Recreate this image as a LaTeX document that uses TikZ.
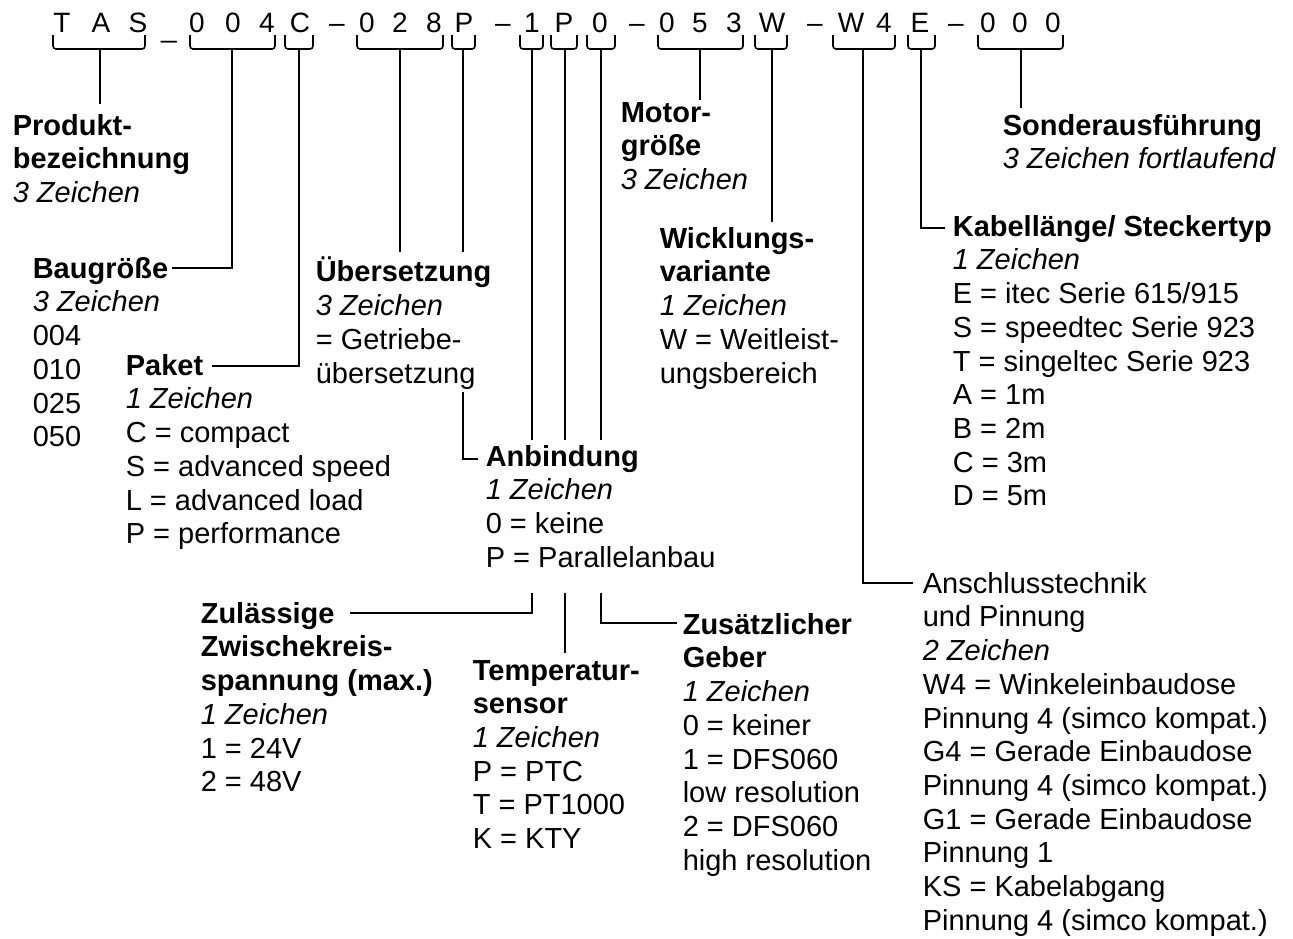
\documentclass[tikz,border=0pt]{standalone}
\usepackage{fontspec}
\setmainfont{Liberation Sans}
\begin{document}
\begin{tikzpicture}[x=1pt,y=-1pt,line width=1.6pt,
  txt/.style={anchor=north west,yshift=23.6pt,inner sep=0pt,align=left,
    font=\fontsize{29}{33.7}\selectfont,execute at begin node=\strut},
  code/.style={anchor=base,inner sep=0pt,font=\fontsize{28}{30}\selectfont},
  brace/.style={line width=1.6pt,rounded corners=3pt},
  conn/.style={line width=1.6pt}]
\useasboundingbox (0,0) rectangle (1293,938);
% code line
\foreach \x/\c/\n in {62/T/k1,101/A/k2,138/S/k3,197/0/k5,233/0/k6,267/4/k7,300/C/k8,337/–/k9,
  367/0/k10,400/2/k11,434/8/k12,464/P/k13,503/–/k14,532/1/k15,564/P/k16,600/0/k17,637/–/k18,
  667/0/k19,700/5/k20,734/3/k21,772/W/k22,815/–/k23,851/W/k24,884/4/k25,920/E/k26,956/–/k27,
  988/0/k28,1020/0/k29,1053/0/k30}
  \node[code] (\n) at (\x,32) {\c};
\node[code,yshift=-5pt] (k4) at (169,32) {\_};
% braces
\foreach \a/\b/\m/\n in {53/145/100/bTAS,190/275/232/bBau,285/313/299/bPak,357/443/400/bUe,
  452/475/463/bAnb,520/543/532/bZul,551/577/565/bTem,587/615/601/bGeb,658/743/700/bMot,
  755/787/772/bWic,833/895/863/bAns,908/935/921/bKab,978/1063/1021/bSon}
{
  \draw[brace] (\a,35) -- (\a,49) -- (\b,49) -- (\b,35);
  \coordinate (\n) at (\m,49);
}
% text blocks
\node[txt] (prod) at (12,137) {\textbf{Produkt-}\\\textbf{bezeichnung}\\\textit{3 Zeichen}};
\node[txt] (bau) at (32,280) {\textbf{Baugröße}\\\textit{3 Zeichen}\\004\\010\\025\\050};
\node[txt] (pak) at (125,377) {\textbf{Paket}\\\textit{1 Zeichen}\\C = compact\\S = advanced speed\\L = advanced load\\P = performance};
\node[txt] (ueb) at (315,280) {\textbf{Übersetzung}\\\textit{3 Zeichen}\\= Getriebe-\\übersetzung};
\node[txt] (anb) at (485,468) {\textbf{Anbindung}\\\textit{1 Zeichen}\\0 = keine\\P = Parallelanbau};
\node[txt] (mot) at (620,125) {\textbf{Motor-}\\\textbf{größe}\\\textit{3 Zeichen}};
\node[txt] (wic) at (659,250) {\textbf{Wicklungs-}\\\textbf{variante}\\\textit{1 Zeichen}\\W = Weitleist-\\ungsbereich};
\node[txt] (kab) at (952,238) {\textbf{Kabellänge/ Steckertyp}\\\textit{1 Zeichen}\\E = itec Serie 615/915\\S = speedtec Serie 923\\T = singeltec Serie 923\\A = 1m\\B = 2m\\C = 3m\\D = 5m};
\node[txt] (son) at (1002,137) {\textbf{Sonderausführung}\\\textit{3 Zeichen fortlaufend}};
\node[txt] (zul) at (200,625) {\textbf{Zulässige}\\\textbf{Zwischekreis-}\\\textbf{spannung (max.)}\\\textit{1 Zeichen}\\1 = 24V\\2 = 48V};
\node[txt] (tem) at (472,683) {\textbf{Temperatur-}\\\textbf{sensor}\\\textit{1 Zeichen}\\P = PTC\\T = PT1000\\K = KTY};
\node[txt] (geb) at (682,636) {\textbf{Zusätzlicher}\\\textbf{Geber}\\\textit{1 Zeichen}\\0 = keiner\\1 = DFS060\\low resolution\\2 = DFS060\\high resolution};
\node[txt] (ans) at (922,595) {Anschlusstechnik\\und Pinnung\\\textit{2 Zeichen}\\W4 = Winkeleinbaudose\\Pinnung 4 (simco kompat.)\\G4 = Gerade Einbaudose\\Pinnung 4 (simco kompat.)\\G1 = Gerade Einbaudose\\Pinnung 1\\KS = Kabelabgang\\Pinnung 4 (simco kompat.)};
% connector end points
\coordinate (eTAS) at (100,104);
\coordinate (eBau) at (172,268);
\coordinate (ePak) at (212,366);
\coordinate (eUe) at (400,252);
\coordinate (eAnb1) at (463,252);
\coordinate (sAnb2) at (463,392);
\coordinate (eAnb2) at (478,459);
\coordinate (eZul1) at (532,440);
\coordinate (sZul2) at (532,593);
\coordinate (eZul2) at (350,613);
\coordinate (eTem1) at (565,440);
\coordinate (sTem2) at (565,593);
\coordinate (eTem2) at (565,653);
\coordinate (eGeb1) at (601,440);
\coordinate (sGeb2) at (601,593);
\coordinate (eGeb2) at (677,623);
\coordinate (eMot) at (700,100);
\coordinate (eWic) at (772,222);
\coordinate (eAns) at (913,583);
\coordinate (eKab) at (945,228);
\coordinate (eSon) at (1021,108);
% connectors
\draw[conn] (bTAS) -- (eTAS);
\draw[conn] (bBau) |- (eBau);
\draw[conn] (bPak) |- (ePak);
\draw[conn] (bUe) -- (eUe);
\draw[conn] (bAnb) -- (eAnb1);
\draw[conn] (sAnb2) |- (eAnb2);
\draw[conn] (bZul) -- (eZul1);
\draw[conn] (sZul2) |- (eZul2);
\draw[conn] (bTem) -- (eTem1);
\draw[conn] (sTem2) -- (eTem2);
\draw[conn] (bGeb) -- (eGeb1);
\draw[conn] (sGeb2) |- (eGeb2);
\draw[conn] (bMot) -- (eMot);
\draw[conn] (bWic) -- (eWic);
\draw[conn] (bAns) |- (eAns);
\draw[conn] (bKab) |- (eKab);
\draw[conn] (bSon) -- (eSon);
\end{tikzpicture}
\end{document}
